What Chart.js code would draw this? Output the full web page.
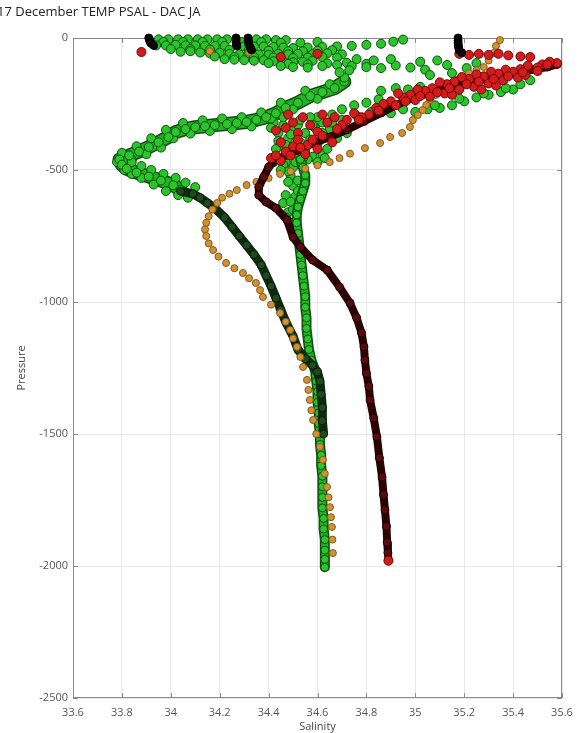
<!DOCTYPE html>
<html>
<head>
<meta charset="utf-8">
<script src="https://cdn.jsdelivr.net/npm/chart.js@4.4.1/dist/chart.umd.min.js"></script>
<style>
  body { margin: 0; background: #fff; }
  canvas { display: block; }
</style>
</head>
<body>
<canvas id="profileChart" width="583" height="733"></canvas>
<script>
// Axis ticks
const salTicks = [33.6, 33.8, 34, 34.2, 34.4, 34.6, 34.8, 35, 35.2, 35.4, 35.6];
const presTicks = [0, -500, -1000, -1500, -2000, -2500];

// [salinity, pressure]
const greenSurface = [
  // top rows
  [33.95, -5], [33.99, -5], [34.03, -5], [34.07, -5], [34.11, -5], [34.15, -5], [34.19, -5], [34.23, -5],
  [34.35, -5], [34.39, -5], [34.43, -8], [34.47, -8],
  [33.97, -15], [34.05, -15], [34.13, -15], [34.21, -15], [34.29, -15], [34.37, -15], [34.45, -18],
  [34.53, -18], [34.60, -15],
  [33.94, -28], [33.98, -28], [34.02, -26], [34.06, -28], [34.10, -28], [34.14, -30], [34.18, -30],
  [34.22, -30], [34.30, -32], [34.34, -32], [34.38, -32], [34.42, -34], [34.46, -36], [34.50, -38],
  [34.56, -36], [34.62, -34], [34.68, -32], [34.74, -30], [34.80, -26], [34.86, -22], [34.91, -14],
  [34.95, -6],
  [34.00, -42], [34.08, -42], [34.16, -44], [34.24, -45], [34.32, -46], [34.40, -48], [34.48, -50],
  [34.54, -50], [34.60, -48], [34.66, -46],
  // middle rows
  [34.04, -52], [34.08, -50], [34.12, -55], [34.16, -58], [34.20, -56], [34.24, -60], [34.28, -62],
  [34.32, -58], [34.36, -62], [34.40, -64], [34.44, -60], [34.48, -62], [34.52, -60], [34.58, -62],
  [34.64, -58], [34.70, -62], [34.18, -70], [34.26, -72], [34.34, -72], [34.42, -74], [34.50, -76],
  [34.56, -74], [34.62, -72], [34.68, -74],
  [34.22, -80], [34.26, -82], [34.30, -84], [34.34, -86], [34.38, -84], [34.42, -88], [34.46, -90],
  [34.50, -92], [34.54, -90], [34.58, -86], [34.40, -95], [34.48, -98], [34.56, -100], [34.64, -96],
  [34.72, -94], [34.80, -98],
  // lower row, sloping right
  [34.45, -106], [34.50, -110], [34.56, -112], [34.62, -106], [34.68, -102], [34.74, -106],
  [34.80, -110], [34.86, -114], [34.92, -104], [34.98, -112], [35.04, -120], [35.06, -140],
  [35.13, -102], [35.15, -133], [35.21, -114], [35.09, -85], [35.02, -90], [35.25, -95],
  [34.76, -80], [34.83, -85], [34.90, -80], [34.71, -150], [34.69, -130], [34.73, -122]
];
// centre line of the long band that runs down to the V tip
const greenVSpine = [
  [34.71, -165], [34.67, -190], [34.62, -205], [34.57, -220], [34.52, -245], [34.47, -265], [34.43, -285],
  [34.39, -300], [34.35, -310], [34.31, -318], [34.27, -322], [34.23, -326], [34.18, -330], [34.14, -334],
  [34.10, -338], [34.06, -345], [34.02, -356], [33.99, -375], [33.95, -395], [33.91, -413], [33.87, -430],
  [33.83, -445], [33.79, -460], [33.80, -480], [33.82, -495], [33.86, -510], [33.91, -525], [33.96, -540],
  [34.01, -558], [34.04, -575]
];
const greenVEdges = [
  // upper edge
  [34.65, -175], [34.55, -200], [34.45, -245], [34.37, -282], [34.29, -300], [34.21, -305], [34.13, -312],
  [34.05, -322], [33.98, -348], [33.92, -380], [33.86, -410], [33.80, -435],
  // lower edge
  [34.60, -230], [34.50, -270], [34.41, -305], [34.33, -335], [34.25, -345], [34.16, -352], [34.08, -362],
  [34.01, -380], [33.96, -415], [33.90, -440], [33.84, -462], [33.78, -470],
  // lower arm of the V
  [33.81, -500], [33.84, -515], [33.88, -530], [33.93, -555], [33.98, -580], [34.03, -595], [34.07, -605],
  [33.84, -470], [33.88, -485], [33.92, -500], [33.97, -515], [34.02, -530], [34.06, -548], [34.10, -565]
];
const greenCluster = [
  [34.46, -330], [34.50, -345], [34.55, -360], [34.59, -340], [34.62, -320], [34.48, -380], [34.53, -395],
  [34.57, -385], [34.45, -410], [34.50, -420], [34.44, -360], [34.60, -300], [34.66, -290], [34.70, -270],
  [34.75, -255], [34.80, -245], [34.85, -232], [34.88, -265], [34.82, -280], [34.76, -295], [34.70, -310],
  [34.65, -345], [34.60, -400], [34.55, -430], [34.86, -200], [34.92, -190], [34.97, -195], [35.02, -185],
  [35.05, -270], [35.10, -265], [35.15, -255], [35.20, -240], [35.25, -225], [35.30, -215], [35.35, -205],
  [35.40, -195], [35.47, -160], [34.44, -455], [34.48, -440], [34.42, -470], [34.58, -450], [34.52, -330],
  [34.46, -300], [34.42, -320], [34.47, -595], [34.46, -625], [34.48, -660], [34.49, -700], [34.50, -560],
  [34.49, -520], [34.50, -490], [34.47, -470], [34.51, -600], [34.50, -650], [34.52, -540], [34.48, -545],
  [34.44, -390], [34.47, -405], [34.52, -440], [34.56, -460], [34.62, -440], [34.64, -420], [34.68, -380],
  [34.72, -360], [34.62, -360], [34.57, -300], [34.53, -310], [34.49, -365], [34.43, -420], [34.46, -480],
  [34.51, -470], [34.54, -455], [34.60, -470], [34.63, -455], [35.00, -280], [35.08, -255], [35.18, -230],
  [35.28, -210], [35.37, -190], [35.43, -175], [34.95, -270], [34.90, -285], [34.48, -505], [34.52, -580],
  [34.49, -620], [34.47, -680], [34.45, -500], [34.58, -330], [34.66, -320], [34.41, -340]
];
const greenDeep = [
  [34.53, -460], [34.54, -490], [34.55, -520], [34.55, -550], [34.54, -580], [34.53, -610], [34.52, -640],
  [34.515, -670], [34.515, -700], [34.52, -740], [34.525, -780], [34.53, -820], [34.535, -860], [34.54, -900],
  [34.545, -940], [34.55, -980], [34.55, -1020], [34.555, -1060], [34.555, -1100], [34.56, -1140],
  [34.565, -1180], [34.575, -1220], [34.59, -1260], [34.595, -1300], [34.60, -1340], [34.60, -1380],
  [34.605, -1420], [34.605, -1460], [34.61, -1500], [34.61, -1540], [34.615, -1580], [34.615, -1620],
  [34.62, -1660], [34.62, -1700], [34.62, -1740], [34.62, -1780], [34.625, -1820], [34.625, -1860],
  [34.63, -1900], [34.63, -1940], [34.63, -1975], [34.63, -2005]
];
const darkGreenDeep = [
  [34.04, -580], [34.09, -590], [34.12, -605], [34.15, -625], [34.18, -645], [34.22, -680], [34.25, -715],
  [34.28, -750], [34.31, -785], [34.34, -820], [34.37, -860], [34.39, -900], [34.41, -940], [34.43, -985],
  [34.45, -1030], [34.47, -1075], [34.50, -1130], [34.52, -1180], [34.55, -1215], [34.58, -1240],
  [34.60, -1265], [34.61, -1300], [34.615, -1350], [34.62, -1400], [34.62, -1450], [34.625, -1500]
];
const maroonProfile = [
  [35.58, -100], [35.54, -110], [35.47, -121], [35.40, -133], [35.33, -146], [35.27, -159], [35.20, -174],
  [35.13, -189], [35.06, -207], [34.99, -227], [34.92, -255], [34.86, -284], [34.79, -316], [34.72, -348],
  [34.65, -375], [34.58, -400], [34.52, -425], [34.47, -445], [34.43, -460], [34.40, -489], [34.38, -526],
  [34.36, -564], [34.36, -595], [34.39, -621], [34.43, -644], [34.475, -689], [34.50, -754], [34.53, -792],
  [34.58, -841], [34.64, -879], [34.69, -943], [34.733, -1004], [34.76, -1060], [34.78, -1117],
  [34.79, -1170], [34.794, -1220], [34.80, -1270], [34.81, -1320], [34.815, -1371], [34.83, -1440],
  [34.843, -1511], [34.853, -1590], [34.864, -1663], [34.87, -1730], [34.876, -1788], [34.882, -1850],
  [34.885, -1910], [34.888, -1950], [34.89, -1980]
];
const redPoints = [
  [33.88, -53], [35.18, -60], [35.22, -64], [35.26, -60], [35.30, -64], [35.34, -60], [35.38, -66],
  [35.43, -70], [35.47, -72], [35.58, -95], [35.55, -90], [35.52, -100], [35.50, -112], [35.46, -105],
  [35.43, -118], [35.40, -128], [35.37, -120], [35.34, -135], [35.31, -128], [35.28, -145], [35.25, -138],
  [35.22, -155], [35.19, -148], [35.16, -165], [35.13, -175], [35.10, -168], [35.07, -190], [35.04, -200],
  [35.01, -195], [34.98, -215], [34.95, -225], [34.93, -210], [34.90, -240], [34.87, -250], [34.84, -265],
  [35.42, -150], [35.36, -160], [35.30, -172], [35.24, -185], [35.18, -195], [35.12, -210], [35.06, -222],
  [35.00, -235], [35.45, -140], [35.33, -180], [35.27, -195], [35.15, -215], [34.81, -290], [34.78, -300],
  [34.75, -285], [34.72, -310], [34.70, -330], [34.67, -300], [34.64, -320], [34.62, -290], [34.60, -355],
  [34.57, -330], [34.54, -300], [34.52, -360], [34.50, -320], [34.48, -290], [34.47, -340], [34.45, -395],
  [34.43, -350], [34.50, -410], [34.55, -440], [34.60, -420], [34.66, -395], [34.47, -430], [34.41, -455],
  [34.52, -385], [34.56, -405], [34.45, -72], [34.60, -60],
  [34.92, -255], [34.96, -240], [35.02, -220], [35.09, -205], [35.14, -190], [35.21, -175], [35.26, -165],
  [35.32, -155], [35.38, -145], [35.44, -130], [35.50, -125], [35.54, -100], [34.85, -275], [34.77, -310],
  [34.68, -345], [34.62, -370], [34.58, -385], [34.53, -415], [34.49, -445], [34.45, -465], [34.43, -445],
  [34.89, -1980]
];
const orangeProfile = [
  [35.346, -8], [35.33, -30], [35.32, -57], [35.30, -85], [35.28, -110], [35.25, -122], [35.22, -133],
  [35.195, -146], [35.17, -159], [35.14, -178], [35.11, -197], [35.085, -216], [35.06, -235], [35.045, -254],
  [35.03, -273], [35.01, -292], [34.99, -311], [34.978, -337], [34.946, -360], [34.897, -375], [34.856, -398],
  [34.794, -417], [34.733, -438], [34.69, -455], [34.65, -470], [34.60, -482], [34.55, -495], [34.49, -505],
  [34.447, -515], [34.40, -530], [34.35, -545], [34.31, -557], [34.27, -576], [34.24, -590], [34.21, -605],
  [34.19, -625], [34.17, -650], [34.155, -675], [34.145, -700], [34.14, -725], [34.145, -750], [34.155, -778],
  [34.173, -803], [34.195, -828], [34.226, -852], [34.26, -872], [34.295, -890], [34.32, -910], [34.348, -928],
  [34.365, -955], [34.377, -981], [34.41, -1010], [34.447, -1042], [34.47, -1075], [34.488, -1106],
  [34.50, -1138], [34.516, -1170], [34.53, -1208], [34.541, -1246], [34.557, -1295], [34.563, -1333],
  [34.569, -1371], [34.575, -1410], [34.582, -1447], [34.595, -1500], [34.61, -1549], [34.622, -1598],
  [34.63, -1650], [34.639, -1701], [34.645, -1740], [34.651, -1777], [34.655, -1815], [34.659, -1852],
  [34.661, -1900], [34.663, -1951], [34.16, -50], [34.32, -55]
];
const blackSurface = [
  [33.91, 0], [33.913, -7], [33.915, -14], [33.92, -21], [33.93, -28],
  [34.267, 0], [34.267, -8], [34.267, -16], [34.268, -24], [34.27, -30],
  [34.316, 0], [34.317, -9], [34.318, -18], [34.32, -27], [34.325, -36], [34.33, -45],
  [35.175, 0], [35.175, -9], [35.175, -18], [35.176, -27], [35.177, -36], [35.18, -46], [35.19, -56]
];

const titleText = "17 December TEMP PSAL - DAC JA";
const xTitle = "Salinity";
const yTitle = "Pressure";

const toXY = (arr) => arr.map(([s, p]) => ({ x: s, y: p }));

function pointSet(label, data, fill, edge, radius, order, extra) {
  return Object.assign({
    label: label,
    data: toXY(data),
    pointBackgroundColor: fill,
    pointBorderColor: edge,
    pointBorderWidth: 1,
    pointRadius: radius,
    showLine: false,
    clip: false,
    order: order,
  }, extra || {});
}

// a plain thick line under a profile, so the dense chain of markers reads as one band
function bandUnder(label, data, color, width, order) {
  return {
    label: label,
    data: toXY(data),
    showLine: true,
    borderColor: color,
    borderWidth: width,
    borderJoinStyle: "round",
    borderCapStyle: "round",
    pointRadius: 0,
    clip: false,
    order: order,
  };
}

// Frame, inward tick marks and the text around the axes
const framePlugin = {
  id: "frame",
  beforeDatasetsDraw(chart) {
    const { ctx, chartArea: a, scales } = chart;
    ctx.save();
    ctx.strokeStyle = "#8a8a8a";
    ctx.lineWidth = 1;
    ctx.strokeRect(a.left + 0.5, a.top + 0.5, a.right - a.left - 1, a.bottom - a.top - 1);
    ctx.beginPath();
    salTicks.forEach((v) => {
      const px = Math.round(scales.x.getPixelForValue(v)) + 0.5;
      ctx.moveTo(px, a.bottom); ctx.lineTo(px, a.bottom - 5);
      ctx.moveTo(px, a.top); ctx.lineTo(px, a.top + 5);
    });
    presTicks.forEach((v) => {
      const py = Math.round(scales.y.getPixelForValue(v)) + 0.5;
      ctx.moveTo(a.left, py); ctx.lineTo(a.left + 5, py);
      ctx.moveTo(a.right, py); ctx.lineTo(a.right - 5, py);
    });
    ctx.stroke();
    ctx.restore();
  },
  afterDraw(chart) {
    const { ctx, chartArea: a } = chart;
    ctx.save();
    ctx.fillStyle = "#222";
    ctx.font = '13px "Open Sans", sans-serif';
    ctx.textBaseline = "middle";
    ctx.textAlign = "left";
    ctx.fillText(titleText, -3, 12);
    ctx.fillStyle = "#444";
    ctx.font = '11px "Open Sans", sans-serif';
    ctx.textAlign = "center";
    ctx.fillText(xTitle, (a.left + a.right) / 2, 727);
    ctx.translate(22, (a.top + a.bottom) / 2);
    ctx.rotate(-Math.PI / 2);
    ctx.fillText(yTitle, 0, 0);
    ctx.restore();
  },
};

const green = "#2bc42b";
const greenEdge = "#0c4f0c";

new Chart(document.getElementById("profileChart").getContext("2d"), {
  type: "scatter",
  data: {
    datasets: [
      bandUnder("green V edge", greenVSpine, greenEdge, 14, 6.6),
      bandUnder("green V fill", greenVSpine, "#25b025", 11, 6.5),
      pointSet("green surface", greenSurface, green, greenEdge, 4.5, 6),
      pointSet("green V", greenVSpine, green, greenEdge, 4.5, 6),
      pointSet("green V edges", greenVEdges, green, greenEdge, 4.5, 6),
      pointSet("green cluster", greenCluster, green, greenEdge, 4.5, 6),
      bandUnder("green deep edge", greenDeep, greenEdge, 10, 5.6),
      bandUnder("green deep fill", greenDeep, "#25b025", 7, 5.5),
      pointSet("green deep", greenDeep, green, greenEdge, 4, 5),
      pointSet("dark green", darkGreenDeep, "#1e4a1e", "#071a07", 4, 4,
        { showLine: true, borderColor: "#102a10", borderWidth: 9 }),
      pointSet("orange", orangeProfile, "#d4922f", "#7d5a26", 3.5, 3),
      pointSet("maroon", maroonProfile, "#5a0c0c", "#1a0000", 4, 2,
        { showLine: true, borderColor: "#2a0404", borderWidth: 8 }),
      pointSet("red", redPoints, "#d41c1c", "#6a0a0a", 4.5, 1),
      pointSet("black", blackSurface, "#050505", "#000", 4, 0),
    ],
  },
  options: {
    responsive: false,
    animation: false,
    layout: { padding: { top: 38, right: 21, left: 0, bottom: 0 } },
    plugins: {
      legend: { display: false },
      tooltip: { enabled: false },
    },
    elements: { line: { tension: 0 } },
    scales: {
      x: {
        type: "linear",
        min: 33.6,
        max: 35.6,
        afterBuildTicks: (scale) => { scale.ticks = salTicks.map((v) => ({ value: v })); },
        afterFit: (scale) => { scale.height = 35; },
        grid: { color: "#e8e8e8", drawTicks: false },
        border: { display: false },
        ticks: {
          padding: 8,
          color: "#555",
          font: { family: "Open Sans", size: 11 },
          maxRotation: 0,
          autoSkip: false,
          callback: (v) => String(v),
        },
      },
      y: {
        type: "linear",
        min: -2500,
        max: 0,
        afterBuildTicks: (scale) => { scale.ticks = presTicks.map((v) => ({ value: v })); },
        afterFit: (scale) => { scale.width = 73; },
        grid: { color: "#e8e8e8", drawTicks: false },
        border: { display: false },
        ticks: {
          padding: 5,
          color: "#555",
          font: { family: "Open Sans", size: 11 },
          autoSkip: false,
          callback: (v) => String(v),
        },
      },
    },
  },
  plugins: [framePlugin],
});
</script>
</body>
</html>
